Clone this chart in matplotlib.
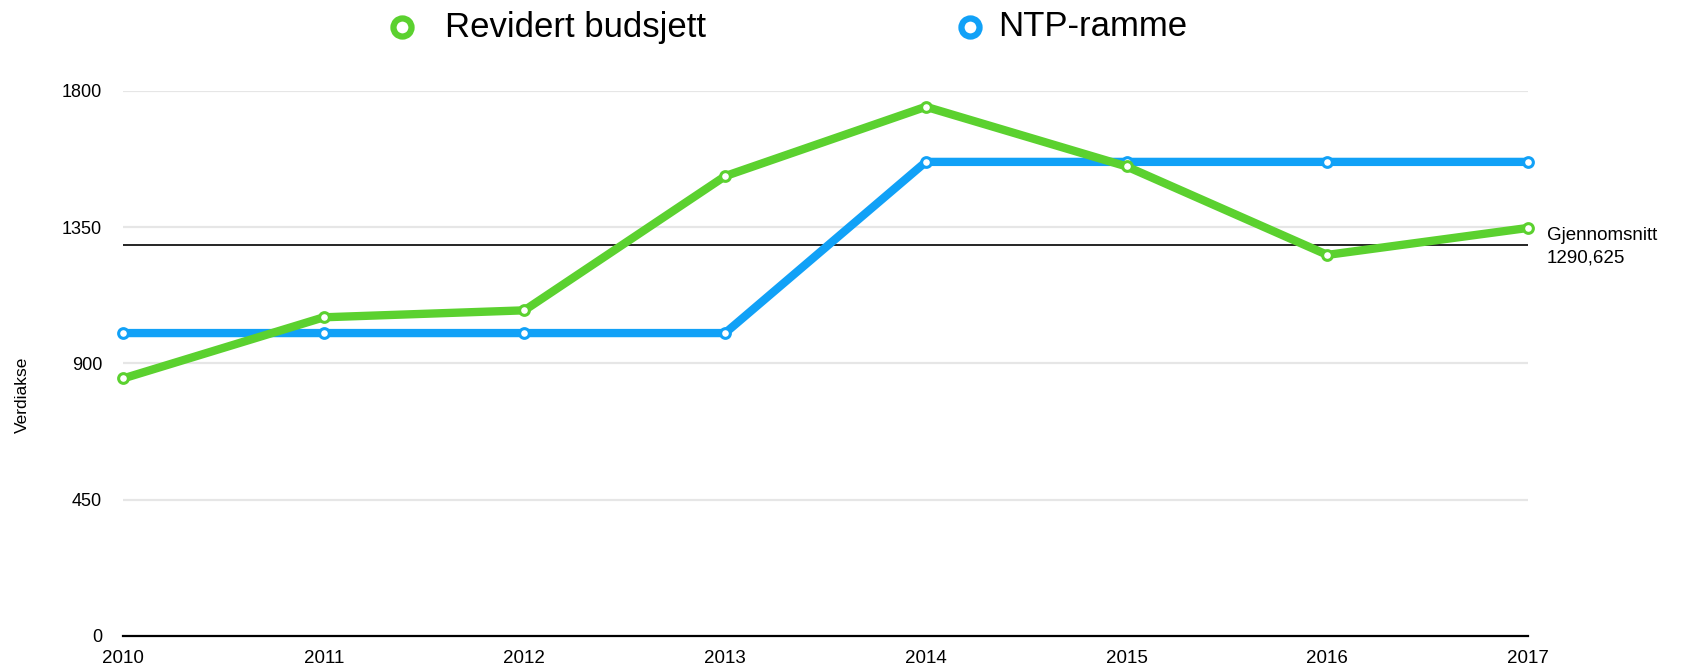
import matplotlib
matplotlib.use("Agg")
import matplotlib.pyplot as plt
from matplotlib.lines import Line2D

plt.rcParams['font.family'] = ['Liberation Sans', 'DejaVu Sans']

years = [2010, 2011, 2012, 2013, 2014, 2015, 2016, 2017]
revidert = [850, 1052, 1075, 1518, 1747, 1550, 1258, 1347]
ntp = [1000, 1000, 1000, 1000, 1565, 1565, 1565, 1565]
average = 1290.625
avg_label = "Gjennomsnitt\n1290,625"
yticks = [0, 450, 900, 1350, 1800]
series_names = ["Revidert budsjett", "NTP-ramme"]

green = '#5BD12F'
blue = '#11A1F7'

fig = plt.figure(figsize=(16.94, 6.70), dpi=100)
ax = fig.add_axes([123/1694, 34/670, (1528-123)/1694, (636-90.7)/670])

ax.set_xlim(years[0], years[-1])
ax.set_ylim(0, 1800)

for y in yticks[1:]:
    ax.axhline(y, color='#e6e6e6', lw=1.6, zorder=0)
ax.axhline(0, color='black', lw=1.6, zorder=1, clip_on=False)

ax.axhline(average, color='black', lw=1.2, zorder=2)

ax.plot(years, ntp, color=blue, lw=6, marker='o', markersize=7,
        markerfacecolor='white', markeredgecolor=blue, markeredgewidth=2.2,
        solid_joinstyle='round', solid_capstyle='round', zorder=3, clip_on=False)
ax.plot(years, revidert, color=green, lw=6, marker='o', markersize=7,
        markerfacecolor='white', markeredgecolor=green, markeredgewidth=2.2,
        solid_joinstyle='round', solid_capstyle='round', zorder=4, clip_on=False)

for s in ax.spines.values():
    s.set_visible(False)
ax.set_yticks(yticks)
ax.set_yticklabels([str(v) for v in yticks])
ax.set_xticks(years)
ax.set_xticklabels([str(v) for v in years])
ax.tick_params(axis='y', length=0, pad=15, labelsize=13)
ax.tick_params(axis='x', length=0, pad=10, labelsize=13.5)

ax.text(1.0 + 19/1405, average + 60, avg_label, transform=ax.get_yaxis_transform(),
        ha='left', va='top', fontsize=13.5, linespacing=1.4)

fig.text(22/1694, 1 - 395/670, "Verdiakse", rotation=90, ha='center', va='center', fontsize=12.5)

# legend
for (mx, tx, name, col) in [(402, 445, series_names[0], green), (970, 998, series_names[1], blue)]:
    fig.add_artist(Line2D([mx/1694], [1 - 27/670], transform=fig.transFigure, marker='o',
                          markersize=13, markerfacecolor='white', markeredgecolor=col,
                          markeredgewidth=4.5, linestyle='none'))
    fig.text(tx/1694, 1 - 27/670, name, ha='left', va='center', fontsize=25)

fig.savefig("out.png", dpi=100, facecolor='white')
